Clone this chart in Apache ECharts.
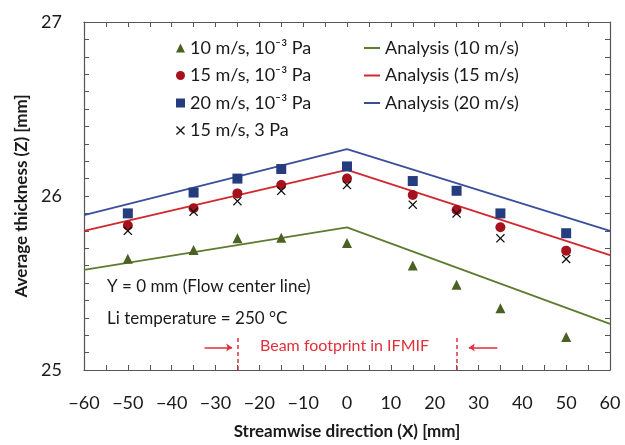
<!DOCTYPE html>
<html>
<head>
<meta charset="utf-8">
<script src="https://cdn.jsdelivr.net/npm/echarts@6/dist/echarts.min.js"></script>
<style>
html,body{margin:0;padding:0;background:#fff;}
#chart{width:625px;height:445px;}
</style>
</head>
<body>
<div id="chart"></div>
<script>
// ---- data ----
var positions = [-50, -35, -25, -15, 0, 15, 25, 35, 50];
var meas10 = [25.64, 25.69, 25.757, 25.76, 25.73, 25.60, 25.49, 25.355, 25.19];
var meas15 = [25.83, 25.93, 26.015, 26.063, 26.10, 26.006, 25.92, 25.82, 25.686];
var meas20 = [25.90, 26.02, 26.10, 26.155, 26.17, 26.086, 26.03, 25.90, 25.786];
var meas15_3Pa = [25.80, 25.91, 25.97, 26.03, 26.063, 25.95, 25.90, 25.757, 25.638];
var analysisX = [-60, 0, 60];
var analysis10 = [25.575, 25.82, 25.265];
var analysis15 = [25.80, 26.15, 25.66];
var analysis20 = [25.89, 26.27, 25.80];
var beamEdges = [-25, 25];
var names = {
  m10: '10 m/s, 10\u207B\u00B3 Pa',
  m15: '15 m/s, 10\u207B\u00B3 Pa',
  m20: '20 m/s, 10\u207B\u00B3 Pa',
  m15b: '15 m/s, 3 Pa',
  a10: 'Analysis (10 m/s)',
  a15: 'Analysis (15 m/s)',
  a20: 'Analysis (20 m/s)'
};

function pairs(xs, ys){ return xs.map(function(x,i){return [x, ys[i]];}); }

var FONT = 'Lato';
var TXT = '#1a1a1a';
var AX = '#555';
var crossPath = 'path://M0,1 L1,0 L5,4 L9,0 L10,1 L6,5 L10,9 L9,10 L5,6 L1,10 L0,9 L4,5 Z';
var lineIcon = 'path://M0,0 L16,0 L16,2 L0,2 Z';

var chart = echarts.init(document.getElementById('chart'), null, {renderer:'canvas'});

var option = {
  animation: false,
  backgroundColor: '#fff',
  textStyle: {fontFamily: FONT},
  grid: {left: 84, right: 15, top: 22, bottom: 75},
  legend: [
    {
      orient: 'vertical', left: 171, top: 34, itemGap: 9.5, itemWidth: 9, itemHeight: 9,
      textStyle: {fontFamily: FONT, fontSize: 18, color: TXT},
      data: [names.m10, names.m15, names.m20, names.m15b]
    },
    {
      orient: 'vertical', left: 359, top: 34, itemGap: 9.5, itemWidth: 16, itemHeight: 9,
      textStyle: {fontFamily: FONT, fontSize: 18, color: TXT},
      data: [
        {name: names.a10, icon: lineIcon},
        {name: names.a15, icon: lineIcon},
        {name: names.a20, icon: lineIcon}
      ]
    }
  ],
  xAxis: [
    {
      type: 'value', min: -60, max: 60, interval: 5, position: 'bottom',
      name: 'Streamwise direction (X) [mm]', nameLocation: 'middle', nameGap: 53,
      nameTextStyle: {fontFamily: FONT, fontSize: 17, fontWeight: 'bold', color: TXT},
      axisLine: {show: true, onZero: false, lineStyle: {color: AX, width: 1.2}},
      axisTick: {show: true, inside: true, length: 5, lineStyle: {color: AX}},
      splitLine: {show: false},
      axisLabel: {
        fontFamily: FONT, fontSize: 18, color: TXT, margin: 24,
        formatter: function(v){
          if (Math.abs(v % 10) > 1e-6) return '';
          return v < 0 ? '\u2212' + Math.abs(v) : String(v);
        }
      }
    },
    {
      type: 'value', min: -60, max: 60, interval: 5, position: 'top',
      axisLine: {show: true, onZero: false, lineStyle: {color: AX, width: 1.2}},
      axisTick: {show: true, inside: true, length: 5, lineStyle: {color: AX}},
      axisLabel: {show: false}, splitLine: {show: false}
    }
  ],
  yAxis: [
    {
      type: 'value', min: 25, max: 27, interval: 0.1, position: 'left',
      name: 'Average thickness (Z) [mm]', nameLocation: 'middle', nameGap: 53,
      nameTextStyle: {fontFamily: FONT, fontSize: 17, fontWeight: 'bold', color: TXT},
      axisLine: {show: true, onZero: false, lineStyle: {color: AX, width: 1.2}},
      axisTick: {show: true, inside: true, length: 5, lineStyle: {color: AX}},
      splitLine: {show: false},
      axisLabel: {
        fontFamily: FONT, fontSize: 18, color: TXT, margin: 22,
        formatter: function(v){
          return Math.abs(v - Math.round(v)) < 1e-6 ? String(Math.round(v)) : '';
        }
      }
    },
    {
      type: 'value', min: 25, max: 27, interval: 0.1, position: 'right',
      axisLine: {show: true, onZero: false, lineStyle: {color: AX, width: 1.2}},
      axisTick: {show: true, inside: true, length: 5, lineStyle: {color: AX}},
      axisLabel: {show: false}, splitLine: {show: false}
    }
  ],
  series: [
    {
      name: names.a10, type: 'line', data: pairs(analysisX, analysis10), symbol: 'none',
      lineStyle: {color: '#5E7B2F', width: 1.8}, itemStyle: {color: '#5E7B2F'}, z: 2
    },
    {
      name: names.a15, type: 'line', data: pairs(analysisX, analysis15), symbol: 'none',
      lineStyle: {color: '#D0282E', width: 1.8}, itemStyle: {color: '#D0282E'}, z: 2
    },
    {
      name: names.a20, type: 'line', data: pairs(analysisX, analysis20), symbol: 'none',
      lineStyle: {color: '#3A4E9C', width: 1.8}, itemStyle: {color: '#3A4E9C'}, z: 2
    },
    {
      name: names.m10, type: 'scatter', data: pairs(positions, meas10), symbol: 'triangle', symbolSize: 10,
      itemStyle: {color: '#4A6123', opacity: 1}, z: 3
    },
    {
      name: names.m15, type: 'scatter', data: pairs(positions, meas15), symbol: 'circle', symbolSize: 10,
      itemStyle: {color: '#A5111C', opacity: 1}, z: 3
    },
    {
      name: names.m20, type: 'scatter', data: pairs(positions, meas20), symbol: 'rect', symbolSize: 10,
      itemStyle: {color: '#253C7F', opacity: 1}, z: 3
    },
    {
      name: names.m15b, type: 'scatter', data: pairs(positions, meas15_3Pa), symbol: crossPath, symbolSize: 9,
      itemStyle: {color: '#111', opacity: 1}, z: 4
    },
    {
      name: 'beam', type: 'line', data: [], silent: true,
      markLine: {
        silent: true, symbol: ['none', 'none'], label: {show: false},
        lineStyle: {color: '#E0303A', type: [4, 3], width: 1.5},
        data: beamEdges.map(function(x){ return [{coord: [x, 25]}, {coord: [x, 25.2]}]; })
      }
    },
    {
      name: 'arrows', type: 'line', data: [], silent: true,
      markLine: {
        silent: true, symbol: ['none', 'arrow'], symbolSize: [6, 6], label: {show: false},
        lineStyle: {color: '#E0303A', type: 'solid', width: 1.5},
        data: [
          [{coord: [-32.5, 25.13]}, {coord: [-26.2, 25.13]}],
          [{coord: [34.3, 25.13]}, {coord: [27.8, 25.13]}]
        ]
      }
    }
  ],
  graphic: [
    {type: 'text', left: 107, top: 278, style: {text: 'Y = 0 mm (Flow center line)', font: '17px Lato', fill: TXT}},
    {type: 'text', left: 107, top: 310, style: {text: 'Li temperature = 250 \u00B0C', font: '17px Lato', fill: TXT}},
    {type: 'text', left: 260, top: 338, style: {text: 'Beam footprint in IFMIF', font: '16px Lato', fill: '#E0303A'}}
  ]
};
chart.setOption(option);
</script>
</body>
</html>
